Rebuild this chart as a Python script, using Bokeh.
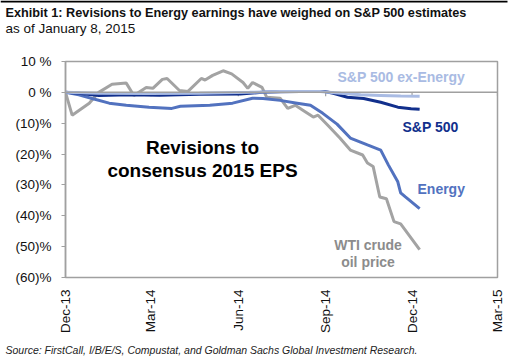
import math
import pandas as pd
from bokeh.plotting import figure
from bokeh.layouts import column
from bokeh.models import (Range1d, FixedTicker, DatetimeTickFormatter, Span, Label,
                          BoxAnnotation, LinearAxis, DatetimeAxis)
from bokeh.embed import file_html
from bokeh.resources import INLINE

# ---------------- data ----------------
wti_dates = ["2013-12-01", "2013-12-08", "2013-12-26", "2014-01-05", "2014-01-19", "2014-02-03",
             "2014-02-11", "2014-02-24", "2014-03-03", "2014-03-13", "2014-03-18", "2014-03-31",
             "2014-04-09", "2014-04-23", "2014-04-27", "2014-05-05", "2014-05-16", "2014-05-25",
             "2014-06-06", "2014-06-11", "2014-06-16", "2014-06-26", "2014-07-01", "2014-07-15",
             "2014-07-23", "2014-07-31", "2014-08-08", "2014-08-19", "2014-08-24", "2014-09-03",
             "2014-09-16", "2014-09-27", "2014-10-10", "2014-10-15", "2014-10-21", "2014-10-28",
             "2014-11-04", "2014-11-12", "2014-11-19", "2014-12-09"]
wti_values = [0.0, -7.4, -3.5, 0.0, 2.6, 3.0,
              -1.0, 1.6, 1.3, 4.2, 4.5, 0.6,
              0.3, 4.5, 4.0, 5.5, 7.0, 6.0,
              3.2, 1.3, 3.2, 1.6, -1.6, -1.9,
              -5.2, -4.2, -5.8, -8.0, -7.4, -10.6,
              -14.8, -18.7, -20.3, -22.9, -24.0, -33.9,
              -34.5, -41.9, -42.6, -51.0]

energy_dates = ["2013-12-01", "2013-12-15", "2013-12-29", "2014-01-16", "2014-02-03", "2014-02-27",
                "2014-03-23", "2014-04-01", "2014-05-02", "2014-05-26", "2014-06-16", "2014-06-27",
                "2014-07-15", "2014-08-02", "2014-08-16", "2014-08-29", "2014-09-13", "2014-09-27",
                "2014-10-15", "2014-10-29", "2014-11-06", "2014-11-16", "2014-11-19", "2014-11-24",
                "2014-12-09"]
energy_values = [0.0, -0.8, -2.0, -3.5, -4.2, -4.8,
                 -5.2, -4.5, -4.2, -3.5, -1.9, -2.0,
                 -2.6, -3.5, -4.2, -6.8, -10.3, -14.8,
                 -17.0, -18.7, -23.5, -29.0, -32.6, -33.9,
                 -37.7]

spx_dates = ["2013-12-01", "2013-12-15", "2014-01-05", "2014-02-06", "2014-03-10", "2014-04-21",
             "2014-06-03", "2014-06-26", "2014-07-15", "2014-08-05", "2014-08-31", "2014-09-09",
             "2014-09-24", "2014-10-11", "2014-10-29", "2014-11-16", "2014-11-30", "2014-12-09"]
spx_values = [0.0, -0.3, -1.0, -0.8, -0.9, -0.6,
              -0.5, 0.0, 0.2, 0.3, 0.3, -0.3,
              -1.6, -2.0, -3.2, -4.8, -5.3, -5.5]

exen_dates = ["2013-12-01", "2014-01-05", "2014-02-27", "2014-04-21", "2014-06-13", "2014-07-15",
              "2014-08-26", "2014-09-17", "2014-10-08", "2014-10-29", "2014-11-19", "2014-12-09"]
exen_values = [0.0, -0.3, -0.4, -0.3, 0.0, 0.3,
               0.3, -0.3, -0.8, -1.0, -1.2, -1.3]

x_tick_dates = ["2013-12-01", "2014-03-01", "2014-06-01", "2014-09-01", "2014-12-01", "2015-03-01"]
y_ticks = [10, 0, -10, -20, -30, -40, -50, -60]
y_tick_labels = ["10 %", "0 %", "(10)%", "(20)%", "(30)%", "(40)%", "(50)%", "(60)%"]

title_text = "Exhibit 1: Revisions to Energy earnings have weighed on S&P 500 estimates"
subtitle_text = "as of January 8, 2015"
source_text = "Source: FirstCall, I/B/E/S, Compustat, and Goldman Sachs Global Investment Research."

# ---------------- styles ----------------
C_WTI = "#a3a3a3"
C_WTI_TXT = "#8c8c8c"
C_ENERGY = "#5272bf"
C_SPX = "#112f8c"
C_EXEN = "#a9bbe3"
C_FRAME = "#a0a0a0"
FONT = "Liberation Sans"
W = 522


def ts(lst):
    return pd.to_datetime(pd.Series(lst))


def lab(fig, text, x, y, size, color, style="bold", align="left", baseline="middle"):
    fig.add_layout(Label(x=x, y=y, x_units="screen", y_units="screen", text=text,
                         text_font=FONT, text_font_size=size, text_font_style=style,
                         text_color=color, text_align=align, text_baseline=baseline))


def blank(h):
    f = figure(width=W, height=h, output_backend="svg", toolbar_location=None,
               x_axis_type=None, y_axis_type=None, title=None,
               x_range=Range1d(0, 1), y_range=Range1d(0, 1),
               min_border=0, min_border_left=0, min_border_right=0,
               min_border_top=0, min_border_bottom=0, frame_align=False)
    f.xgrid.visible = False
    f.ygrid.visible = False
    f.outline_line_color = None
    f.background_fill_color = "white"
    f.border_fill_color = "white"
    return f


# ---------------- header ----------------
HEAD_H = 46
head = blank(HEAD_H)
head.add_layout(BoxAnnotation(left=0, right=507, top=HEAD_H, bottom=HEAD_H - 2,
                              left_units="screen", right_units="screen",
                              top_units="screen", bottom_units="screen",
                              fill_color="black", fill_alpha=1.0, line_color=None))
lab(head, title_text, 5, HEAD_H - 12, "12.7px", "#111111")
lab(head, subtitle_text, 5, HEAD_H - 28, "13.5px", "#111111", style="normal")

# ---------------- main chart ----------------
x_ticks_ts = ts(x_tick_dates)
x_ticks_ms = [t.value / 1e6 for t in x_ticks_ts]

p = figure(width=W, height=290, output_backend="svg", toolbar_location=None,
           x_axis_type=None, y_axis_type=None, title=None,
           x_range=Range1d(x_ticks_ts.iloc[0], x_ticks_ts.iloc[-1]),
           y_range=Range1d(y_ticks[-1], y_ticks[0]),
           min_border_left=65, min_border_right=25, min_border_top=15, min_border_bottom=58,
           frame_align=False)
p.xgrid.visible = False
p.ygrid.visible = False
p.outline_line_color = C_FRAME
p.outline_line_width = 1.5
p.background_fill_color = "white"
p.border_fill_color = "white"

yax = LinearAxis(ticker=FixedTicker(ticks=y_ticks),
                 major_label_overrides={v: s for v, s in zip(y_ticks, y_tick_labels)})
yax.axis_line_color = C_FRAME
yax.axis_line_width = 1.5
yax.major_tick_line_color = C_FRAME
yax.major_tick_out = 4
yax.major_tick_in = 0
yax.minor_tick_line_color = None
yax.major_label_standoff = 10
yax.major_label_text_font = FONT
yax.major_label_text_font_size = "13.5px"
yax.major_label_text_color = "#111111"
p.add_layout(yax, "left")

xax = DatetimeAxis(ticker=FixedTicker(ticks=x_ticks_ms),
                   formatter=DatetimeTickFormatter(days="%b-%y", months="%b-%y", years="%b-%y"))
xax.axis_line_color = None
xax.major_tick_line_color = None
xax.minor_tick_line_color = None
xax.major_label_orientation = math.pi / 2
xax.major_label_standoff = 6
xax.major_label_text_font = FONT
xax.major_label_text_font_size = "13.5px"
xax.major_label_text_color = "#111111"
p.add_layout(xax, "below")

p.add_layout(Span(location=0, dimension="width", line_color=C_FRAME, line_width=1.5))
p.segment(x0=x_ticks_ts, y0=[0] * len(x_ticks_ts), x1=x_ticks_ts, y1=[-1.3] * len(x_ticks_ts),
          line_color=C_FRAME, line_width=1.2)

p.line(ts(wti_dates), wti_values, line_color=C_WTI, line_width=3)
p.line(ts(energy_dates), energy_values, line_color=C_ENERGY, line_width=3)
p.line(ts(spx_dates), spx_values, line_color=C_SPX, line_width=3)
p.line(ts(exen_dates), exen_values, line_color=C_EXEN, line_width=3)

lab(p, "S&P 500 ex-Energy", 272, 200.5, "14px", C_EXEN)
lab(p, "S&P 500", 337, 151, "14px", C_SPX)
lab(p, "Energy", 352, 89, "14px", C_ENERGY)
lab(p, "WTI crude", 302.5, 33, "14px", C_WTI_TXT, align="center")
lab(p, "oil price", 302.5, 16, "14px", C_WTI_TXT, align="center")
lab(p, "Revisions to", 137, 130, "19px", "black", align="center")
lab(p, "consensus 2015 EPS", 137, 107, "19px", "black", align="center")

# ---------------- footer ----------------
FOOT_H = 27
foot = blank(FOOT_H)
lab(foot, source_text, 5, FOOT_H - 13, "10.5px", "#222222", style="italic")

layout = column(head, p, foot, spacing=0)

open("out.html", "w").write(file_html(layout, INLINE))
